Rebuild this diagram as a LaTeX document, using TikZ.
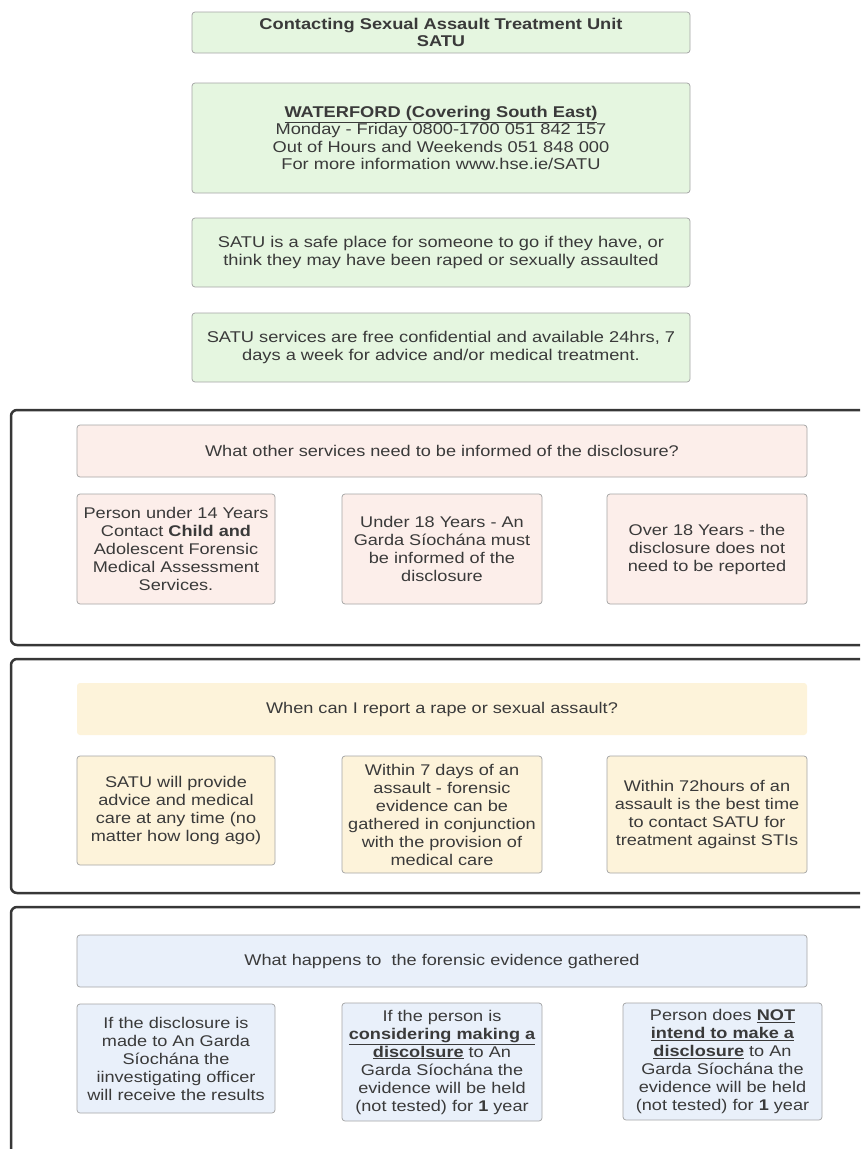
\documentclass[tikz,border=0pt]{standalone}
\usepackage{fontspec}
\setmainfont{Liberation Sans}[FakeStretch=1.17]
\definecolor{satugreen}{RGB}{229,246,224}
\definecolor{satupink}{RGB}{252,238,234}
\definecolor{satuyellow}{RGB}{253,243,218}
\definecolor{satublue}{RGB}{233,240,250}
\definecolor{boxline}{RGB}{165,165,165}
\definecolor{frameline}{RGB}{55,55,55}
\definecolor{txt}{RGB}{58,58,58}

\tikzset{every picture/.style={line width=0.75pt}}
\tikzset{
  infobox/.style={draw=boxline, rounded corners=3pt, align=center, inner sep=1pt, text=txt, font=\fontsize{15.5}{18}\selectfont},
  greenbox/.style={infobox, fill=satugreen, minimum width=498pt, font=\fontsize{15.6}{17.5}\selectfont},
  pinkbox/.style={infobox, fill=satupink},
  yellowbox/.style={infobox, fill=satuyellow},
  bluebox/.style={infobox, fill=satublue},
  headbox/.style={minimum width=730pt, minimum height=52pt},
  framebox/.style={draw=frameline, line width=2.5pt, rounded corners=6pt}
}

\begin{document}
\begin{tikzpicture}[x=1pt,y=1pt,yscale=-1,xscale=1]
  \useasboundingbox (0,0) rectangle (860,1149);
  \clip (0,0) rectangle (860,1149);

  %Green boxes
  \node [greenbox, minimum height=41pt] (title) at (441,32.5) {\textbf{Contacting Sexual Assault Treatment Unit}\\ \textbf{SATU}};
  \node [greenbox, minimum height=110pt] (waterford) at (441,138) {\textbf{\underline{WATERFORD (Covering South East)}}\\ Monday - Friday 0800-1700 051 842 157\\ Out of Hours and Weekends 051 848 000\\ For more information www.hse.ie/SATU};
  \node [greenbox, minimum height=69pt] (safe) at (441,252.5) {SATU is a safe place for someone to go if they have, or\\ think they may have been raped or sexually assaulted};
  \node [greenbox, minimum height=69pt] (free) at (441,347.5) {SATU services are free confidential and available 24hrs, 7\\ days a week for advice and/or medical treatment.};

  %Frames
  \draw [framebox] (11,410) rectangle (880,645);
  \draw [framebox] (11,659) rectangle (880,893);
  \draw [framebox] (11,907) rectangle (880,1180);

  %Other services
  \node [pinkbox, headbox] (inform) at (442,451) {What other services need to be informed of the disclosure?};
  \node [pinkbox, minimum width=198pt, minimum height=110pt] (under14) at (176,549) {Person under 14 Years\\ Contact \textbf{Child and}\\ Adolescent Forensic\\ Medical Assessment\\ Services.};
  \node [pinkbox, minimum width=200pt, minimum height=110pt] (under18) at (442,549) {Under 18 Years - An\\ Garda Síochána must\\ be informed of the\\ disclosure};
  \node [pinkbox, minimum width=200pt, minimum height=110pt] (over18) at (707,549) {Over 18 Years - the\\ disclosure does not\\ need to be reported};

  %When to report
  \node [yellowbox, headbox, draw=none] (when) at (442,709) {When can I report a rape or sexual assault?};
  \node [yellowbox, minimum width=198pt, minimum height=109pt] (anytime) at (176,810.5) {SATU will provide\\ advice and medical\\ care at any time (no\\ matter how long ago)};
  \node [yellowbox, minimum width=200pt, minimum height=117pt] (sevendays) at (442,814.5) {Within 7 days of an\\ assault - forensic\\ evidence can be\\ gathered in conjunction\\ with the provision of\\ medical care};
  \node [yellowbox, minimum width=200pt, minimum height=117pt] (hours) at (707,814.5) {Within 72hours of an\\ assault is the best time\\ to contact SATU for\\ treatment against STIs};

  %Forensic evidence
  \node [bluebox, headbox] (evidence) at (442,961) {What happens to\ \ the forensic evidence gathered};
  \node [bluebox, minimum width=198pt, minimum height=109pt] (garda) at (176,1058.5) {If the disclosure is\\ made to An Garda\\ Síochána the\\ iinvestigating officer\\ will receive the results};
  \node [bluebox, minimum width=200pt, minimum height=118pt] (considering) at (442,1062) {If the person is\\ \textbf{\underline{considering making a}}\\ \textbf{\underline{discolsure}} to An\\ Garda Síochána the\\ evidence will be held\\ (not tested) for \textbf{1} year};
  \node [bluebox, minimum width=199pt, minimum height=117pt] (notintend) at (722.5,1061.5) {Person does \textbf{\underline{NOT}}\\ \textbf{\underline{intend to make a}}\\ \textbf{\underline{disclosure}} to An\\ Garda Síochána the\\ evidence will be held\\ (not tested) for \textbf{1} year};
\end{tikzpicture}
\end{document}
